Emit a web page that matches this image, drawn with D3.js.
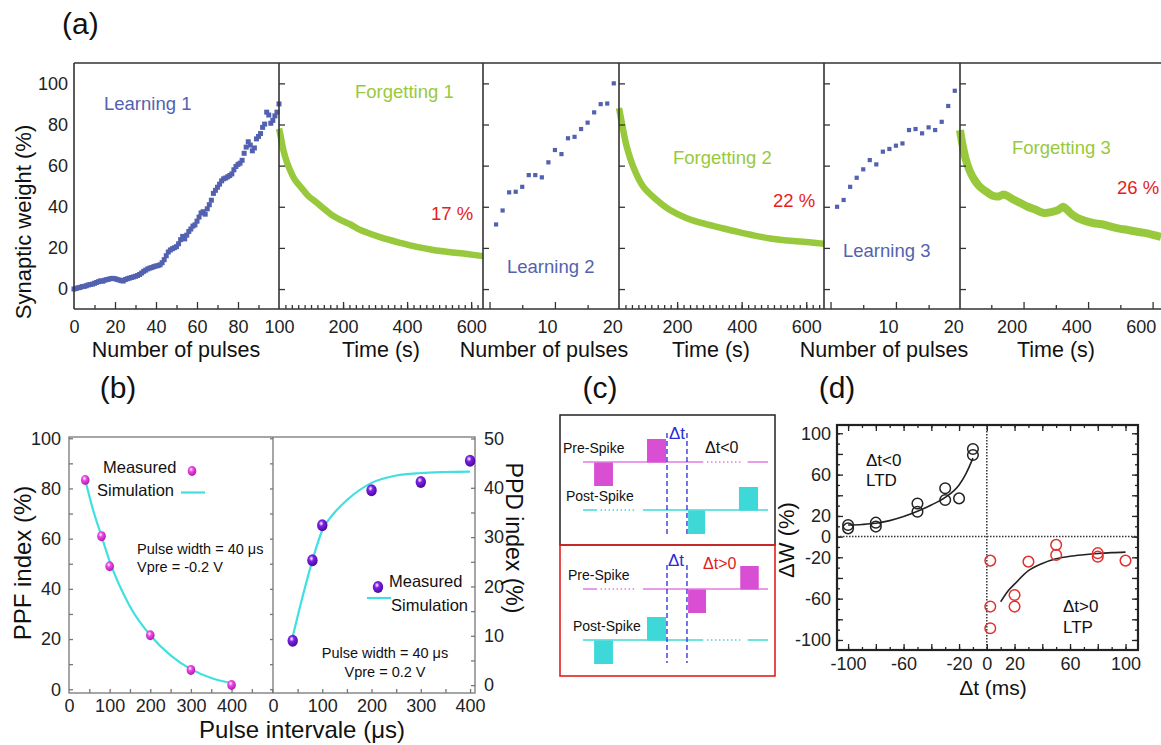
<!DOCTYPE html>
<html>
<head>
<meta charset="utf-8">
<script src="https://cdn.jsdelivr.net/npm/d3@7"></script>
<style>
  body { margin: 0; background: #fff; }
  text { font-family: "Liberation Sans", Arial, sans-serif; }
</style>
</head>
<body>
<svg id="fig"></svg>
<script>
// ---------- (a) learning / forgetting
const learn1Pulse = d3.range(0, 101);
const learn1W = [
  0, 0.3, 0.6, 0.8, 1.2, 1.3, 1.6, 2.0, 2.2, 2.4, 2.8,
  3.2, 3.6, 4.0, 3.8, 4.3, 4.6, 4.8, 5.1, 5.2, 5.0,
  4.7, 4.4, 4.1, 3.9, 4.6, 5.0, 5.3, 5.6, 5.9, 6.2,
  6.6, 7.1, 7.8, 8.6, 9.2, 9.8, 10.2, 10.5, 10.9, 11.2,
  11.4, 11.8, 12.8, 14.3, 16.2, 18.0, 19.0, 19.6, 20.1, 20.6,
  22.0, 24.0, 25.6, 24.4, 26.2, 28.0, 29.2, 30.6, 31.2, 33.0,
  35.0, 37.0, 37.6, 36.4, 39.0, 41.0, 43.2, 46.5, 48.0, 49.5,
  51.0, 52.6, 53.6, 54.0, 54.6, 55.2, 56.0, 58.0, 59.6, 60.6,
  61.2, 62.6, 66.0, 69.0, 71.6, 70.0, 67.2, 68.6, 73.0, 74.2,
  75.6, 78.6, 80.2, 86.0, 84.6, 80.6, 82.0, 84.2, 86.0, 90.0
];
const learnPulse = [1, 2, 3, 4, 5, 6, 7, 8, 9, 10, 11, 12, 13, 14, 15, 16, 17, 18, 19];
const learn2W = [31.4, 38.2, 47, 47.3, 49.7, 55.4, 55.4, 54.3, 61.6, 67.6, 65.6, 73.3, 74, 77.8, 80.9, 85.9, 89.9, 90.2, 100];
const learn3W = [40, 43.3, 49.7, 54.1, 58.2, 62.7, 60.6, 66.8, 68.1, 69.7, 70.8, 77.3, 77.8, 75.7, 78.6, 77.3, 81.3, 89, 96.4];

const forget1T = [0, 3, 8, 13, 24, 34, 50, 66, 90, 118, 145, 170, 200, 222, 250, 274, 320, 378, 430, 482, 530, 587, 637];
const forget1W = [78, 76, 72, 68, 62, 58, 53, 50, 45.5, 42, 38.5, 35.5, 33, 31.5, 29, 27.5, 25, 22.5, 20.5, 19, 18, 17, 16];
const forget2T = [20, 25, 33, 44, 64, 95, 137, 178, 230, 281, 330, 385, 440, 488, 540, 591, 643, 655];
const forget2W = [88, 84, 77.3, 69.2, 59.5, 49.8, 43.3, 38.4, 34.4, 31.9, 30, 27.9, 26, 24.6, 23.6, 23, 22.2, 22];
const forget3T = [40, 48, 58, 70, 85, 100, 120, 140, 160, 175, 190, 205, 225, 250, 275, 300, 325, 345, 360, 372, 385, 405, 430, 455, 480, 505, 530, 557, 585, 608, 635, 663];
const forget3W = [77.3, 70, 63, 57.5, 53, 50, 47.5, 45.5, 45, 46, 45, 43.5, 42, 40, 38.5, 37, 37.5, 38.5, 40, 38.5, 36.5, 34.5, 33, 32, 31.5, 30.5, 29.5, 28.8, 28, 27.4, 26.5, 25.4];
const weightTicks = [0, 20, 40, 60, 80, 100];

// ---------- (b) PPF / PPD
const ppInterval = [40, 80, 100, 200, 300, 400];
const ppfMeasured = [83.4, 61, 49, 21.5, 7.7, 1.7];
const ppfSimX = [40, 60, 80, 100, 150, 200, 250, 300, 350, 400];
const ppfSim = [83.4, 71, 61, 51, 33, 21.5, 13.5, 8, 4.5, 2.5];
const ppdMeasured = [9, 25.3, 32.4, 39.5, 41.2, 45.5];
const ppdSimX = [40, 60, 80, 100, 125, 150, 200, 250, 300, 350, 400];
const ppdSim = [9.8, 17.9, 25.3, 31.4, 35, 37.5, 41, 42.5, 43, 43.2, 43.3];

// ---------- (c) spike schematic (time in arbitrary units 0-100, amplitude +-1)
const ltdPrePulses = [[6, 16.2, -1], [34.6, 44.9, 1]];
const ltdPostPulses = [[56.8, 66, -1], [84.3, 94.6, 1]];
const ltpPrePulses = [[56.8, 66.5, -1], [85, 95, 1]];
const ltpPostPulses = [[6, 16.2, -1], [34.6, 44.9, 1]];
const lateSolid = [[0, 65], [89, 100]], lateDotted = [[67, 86.5]];
const earlySolid = [[0, 7.6], [32.4, 100]], earlyDotted = [[9.5, 29]];
const dtMarks = [45.4, 56.2];

// ---------- (d) STDP
const ltdDt = [-100, -100, -80, -80, -50, -50, -30, -30, -20, -10, -10];
const ltdDw = [11.3, 8, 13.5, 9.7, 32, 24, 46.8, 35.5, 37, 84.8, 79];
const ltpDt = [2.5, 2.5, 2.5, 20, 20, 30, 50, 50, 80, 80, 100];
const ltpDw = [-23.2, -67.7, -88.7, -56.5, -67.7, -24.2, -8, -17.7, -16, -19.4, -23.2];
const ltdFitDt = [-100, -90, -80, -70, -60, -50, -40, -30, -20, -15, -10];
const ltdFitDw = [11.3, 11.8, 12.9, 15.5, 19.4, 24.5, 30.6, 38, 50, 61, 76];
const ltpFitDt = [10, 15, 20, 30, 40, 50, 60, 70, 80, 90, 100];
const ltpFitDw = [-63, -53, -46, -33, -26, -21.5, -19, -17.5, -16.3, -15.5, -15];

const W = 1161, H = 745;
const svg = d3.select("#fig").attr("width", W).attr("height", H);
svg.append("rect").attr("width", W).attr("height", H).attr("fill", "#fff");

function addAxis(parent, axis, tx, ty, fontSize, col) {
  const g = parent.append("g").attr("transform", `translate(${tx},${ty})`).call(axis);
  g.attr("font-family", null).attr("font-size", null);
  g.select(".domain").remove();
  g.selectAll(".tick line").attr("stroke", col || "#333").attr("stroke-width", 1.3);
  g.selectAll("text").attr("font-size", fontSize || 18).attr("fill", "#222");
  return g;
}
function label(parent, x, y, str, size, color, anchor) {
  return parent.append("text").attr("x", x).attr("y", y).attr("font-size", size)
    .attr("fill", color || "#111").attr("text-anchor", anchor || "start").text(str);
}
const fmt = d => String(d);

// ================= (a) =================
const gA = svg.append("g");
const yA = d3.scaleLinear().domain([-9.7, 109.9]).range([309, 63]);
const LEARN = "#5262b0", FORGET = "#98c93c", RED = "#e8201c";

const panelsA = [
  { type: "learn", x: [74, 279], dom: [0, 100], xs: learn1Pulse, ys: learn1W, size: 5,
    major: [20, 40, 60, 80], minor: [10, 30, 50, 70, 90], labels: [0, 20, 40, 60, 80, 100], dx: 0 },
  { type: "forget", x: [279, 483], dom: [0, 637], xs: forget1T, ys: forget1W, width: 6.5,
    major: [200, 400, 600], minor: d3.range(20, 637, 20), labels: [200, 400, 600], dx: 0 },
  { type: "learn", x: [483, 619], dom: [-1, 19.8], xs: learnPulse, ys: learn2W, size: 4.2,
    major: [0, 10], minor: [5, 15], labels: [10, 20], dx: -8 },
  { type: "forget", x: [619, 824], dom: [20, 655], xs: forget2T, ys: forget2W, width: 6.5,
    major: [200, 400, 600], minor: d3.range(40, 655, 20), labels: [200, 400, 600], dx: 0 },
  { type: "learn", x: [824, 960], dom: [-1, 19.8], xs: learnPulse, ys: learn3W, size: 4.2,
    major: [0, 10], minor: [5, 15], labels: [10, 20], dx: -8 },
  { type: "forget", x: [960, 1161], dom: [40, 663], xs: forget3T, ys: forget3W, width: 8,
    major: [237, 437, 637], minor: [137, 337, 537], labels: [200, 400, 600], dx: 0 }
];

panelsA.forEach((p, i) => {
  const sx = d3.scaleLinear().domain(p.dom).range(p.x);
  const pts = p.xs.map((x, k) => [x, p.ys[k]]);
  if (p.type === "learn") {
    gA.append("g").selectAll("rect").data(pts).join("rect")
      .attr("x", d => sx(d[0]) - p.size / 2).attr("y", d => yA(d[1]) - p.size / 2)
      .attr("width", p.size).attr("height", p.size).attr("fill", LEARN);
  } else {
    gA.append("path").datum(pts)
      .attr("d", d3.line().x(d => sx(d[0])).y(d => yA(d[1])).curve(d3.curveCatmullRom.alpha(0.5)))
      .attr("fill", "none").attr("stroke", FORGET).attr("stroke-width", p.width)
      .attr("stroke-linejoin", "round");
  }
  // bottom ticks, inward
  addAxis(gA, d3.axisBottom(sx).tickValues(p.minor).tickSizeInner(-4).tickSizeOuter(0).tickFormat(""), 0, 309);
  addAxis(gA, d3.axisBottom(sx).tickValues(p.major).tickSizeInner(-7).tickSizeOuter(0).tickFormat(""), 0, 309);
  addAxis(gA, d3.axisBottom(sx).tickValues(p.labels).tickSize(0).tickPadding(11).tickFormat(fmt), 0, 309, 18)
    .selectAll("text").attr("dx", p.dx);
  // left border ticks, inward
  if (i > 0) {
    addAxis(gA, d3.axisRight(yA).tickValues(weightTicks).tickSizeInner(6).tickSizeOuter(0).tickFormat(""), p.x[0], 0);
  }
});

addAxis(gA, d3.axisLeft(yA).tickValues(weightTicks).tickSize(0).tickPadding(6).tickFormat(fmt), 74, 0, 18);

// frame
gA.append("path").attr("d", "M74,63H1161M74,309H1161M74,63V309")
  .attr("stroke", "#333").attr("stroke-width", 1.6).attr("fill", "none");
gA.selectAll(".divider").data(panelsA.slice(1)).join("line")
  .attr("x1", d => d.x[0]).attr("x2", d => d.x[0]).attr("y1", 63).attr("y2", 309)
  .attr("stroke", "#333").attr("stroke-width", 1.6);

label(gA, 62, 34, "(a)", 30);
gA.append("text").attr("transform", "translate(31,222) rotate(-90)").attr("text-anchor", "middle")
  .attr("font-size", 22).attr("fill", "#111").text("Synaptic weight (%)");

const xTitles = [["Number of pulses", 176], ["Time (s)", 381], ["Number of pulses", 544],
  ["Time (s)", 711], ["Number of pulses", 884], ["Time (s)", 1056]];
xTitles.forEach(t => label(gA, t[1], 357, t[0], 21.5, "#111", "middle"));

const curveNames = [["Learning 1", 104, 110, LEARN], ["Forgetting 1", 355, 98, FORGET], ["17 %", 431, 220, RED],
  ["Learning 2", 507, 273, LEARN], ["Forgetting 2", 673, 164, FORGET], ["22 %", 773, 207, RED],
  ["Learning 3", 843, 257, LEARN], ["Forgetting 3", 1012, 154, FORGET], ["26 %", 1117, 194, RED]];
curveNames.forEach(c => label(gA, c[1], c[2], c[0], 18.5, c[3]));

// ================= (b) =================
const gB = svg.append("g");
const bTop = 437, bBot = 693;
const xBL = d3.scaleLinear().domain([0, 502]).range([69, 273]);
const xBR = d3.scaleLinear().domain([0, 410]).range([273, 475]);
const yBL = d3.scaleLinear().domain([-1.5, 100.5]).range([bBot, bTop]);
const yBR = d3.scaleLinear().domain([-1.6, 50.3]).range([bBot, bTop]);

const defs = svg.append("defs");
[["pinkBall", "#f04ae8", "#b01aa8"], ["violetBall", "#7d22e6", "#4a0a9a"]].forEach(g => {
  const rg = defs.append("radialGradient").attr("id", g[0]).attr("cx", "40%").attr("cy", "35%").attr("r", "65%");
  rg.append("stop").attr("offset", "0%").attr("stop-color", "#ffffff");
  rg.append("stop").attr("offset", "35%").attr("stop-color", g[1]);
  rg.append("stop").attr("offset", "100%").attr("stop-color", g[2]);
});

const FR = "#777";
addAxis(gB, d3.axisRight(yBL).tickValues(d3.range(0, 101, 10)).tickSizeInner(4).tickSizeOuter(0).tickFormat(""), 69, 0, 18, FR);
addAxis(gB, d3.axisLeft(yBL).tickValues(d3.range(0, 101, 10)).tickSizeInner(3).tickSizeOuter(0).tickFormat(""), 273, 0, 18, FR);
addAxis(gB, d3.axisLeft(yBR).tickValues(d3.range(0, 51, 5)).tickSizeInner(4).tickSizeOuter(0).tickFormat(""), 475, 0, 18, FR);
addAxis(gB, d3.axisLeft(yBL).tickValues(d3.range(0, 101, 20)).tickSize(0).tickPadding(8).tickFormat(fmt), 69, 0, 18);
addAxis(gB, d3.axisRight(yBR).tickValues(d3.range(0, 51, 10)).tickSize(0).tickPadding(9).tickFormat(fmt), 475, 0, 18);
addAxis(gB, d3.axisBottom(xBL).tickValues(d3.range(50, 501, 50)).tickSizeInner(-4).tickSizeOuter(0).tickFormat(""), 0, bBot, 18, FR);
addAxis(gB, d3.axisBottom(xBR).tickValues(d3.range(50, 401, 50)).tickSizeInner(-4).tickSizeOuter(0).tickFormat(""), 0, bBot, 18, FR);
addAxis(gB, d3.axisBottom(xBL).tickValues([0, 100, 200, 300, 400]).tickSize(0).tickPadding(6).tickFormat(fmt), 0, bBot, 18);
addAxis(gB, d3.axisBottom(xBR).tickValues([0, 100, 200, 300, 400]).tickSize(0).tickPadding(6).tickFormat(fmt), 0, bBot, 18);

gB.append("rect").attr("x", 69).attr("y", bTop).attr("width", 475 - 69).attr("height", bBot - bTop)
  .attr("fill", "none").attr("stroke", FR).attr("stroke-width", 1.3);
gB.append("line").attr("x1", 273).attr("x2", 273).attr("y1", bTop).attr("y2", bBot)
  .attr("stroke", FR).attr("stroke-width", 1.3);

const CYAN = "#40e0e0";
const simL = d3.line().x(d => xBL(d[0])).y(d => yBL(d[1])).curve(d3.curveMonotoneX);
const simR = d3.line().x(d => xBR(d[0])).y(d => yBR(d[1])).curve(d3.curveMonotoneX);
gB.append("path").attr("d", simL(ppfSimX.map((x, i) => [x, ppfSim[i]])))
  .attr("fill", "none").attr("stroke", CYAN).attr("stroke-width", 2.2);
gB.append("path").attr("d", simR(ppdSimX.map((x, i) => [x, ppdSim[i]])))
  .attr("fill", "none").attr("stroke", CYAN).attr("stroke-width", 2.2);

gB.append("g").selectAll("ellipse").data(ppInterval.map((x, i) => [x, ppfMeasured[i]])).join("ellipse")
  .attr("cx", d => xBL(d[0])).attr("cy", d => yBL(d[1])).attr("rx", 4.3).attr("ry", 5)
  .attr("fill", "url(#pinkBall)");
gB.append("g").selectAll("ellipse").data(ppInterval.map((x, i) => [x, ppdMeasured[i]])).join("ellipse")
  .attr("cx", d => xBR(d[0])).attr("cy", d => yBR(d[1])).attr("rx", 5.2).attr("ry", 6)
  .attr("fill", "url(#violetBall)");

// legends
label(gB, 103, 473, "Measured", 16.5);
gB.append("ellipse").attr("cx", 192).attr("cy", 471).attr("rx", 4.3).attr("ry", 5).attr("fill", "url(#pinkBall)");
label(gB, 97, 496, "Simulation", 16.5);
gB.append("line").attr("x1", 181).attr("x2", 205).attr("y1", 492.5).attr("y2", 492.5).attr("stroke", CYAN).attr("stroke-width", 2.2);
label(gB, 137, 554, "Pulse width = 40 μs", 14.5);
label(gB, 137, 572, "Vpre = -0.2 V", 14.5);

gB.append("ellipse").attr("cx", 378).attr("cy", 587).attr("rx", 5.2).attr("ry", 6).attr("fill", "url(#violetBall)");
label(gB, 389, 587, "Measured", 16.5);
gB.append("line").attr("x1", 367).attr("x2", 391).attr("y1", 598).attr("y2", 598).attr("stroke", CYAN).attr("stroke-width", 2.2);
label(gB, 391, 611, "Simulation", 16.5);
label(gB, 385, 658, "Pulse width = 40 μs", 14.5, "#111", "middle");
label(gB, 385, 677, "Vpre = 0.2 V", 14.5, "#111", "middle");

label(gB, 118, 398, "(b)", 30, "#111", "middle");
gB.append("text").attr("transform", "translate(31,563) rotate(-90)").attr("text-anchor", "middle")
  .attr("font-size", 24).attr("fill", "#111").text("PPF index (%)");
gB.append("text").attr("transform", "translate(506,538) rotate(90)").attr("text-anchor", "middle")
  .attr("font-size", 23).attr("fill", "#111").text("PPD index (%)");
label(gB, 302, 738, "Pulse intervale (μs)", 24, "#111", "middle");

// ================= (c) =================
const gC = svg.append("g");
const tC = d3.scaleLinear().domain([0, 100]).range([583, 768]);
const ampC = d3.scaleLinear().domain([-1, 1]).range([24, -23]);
const MAG = "#d94fd3", MAGL = "#e27de0", CY2 = "#3fd8d8";

gC.append("rect").attr("x", 560).attr("y", 415).attr("width", 215).attr("height", 130)
  .attr("fill", "none").attr("stroke", "#222").attr("stroke-width", 1.5);
gC.append("rect").attr("x", 560).attr("y", 545).attr("width", 215).attr("height", 131)
  .attr("fill", "none").attr("stroke", "#e02020").attr("stroke-width", 1.6);

const spikeRows = [
  { base: 462, pulses: ltdPrePulses, solid: lateSolid, dotted: lateDotted, fill: MAG, line: MAGL, name: "Pre-Spike", lx: 563 },
  { base: 510, pulses: ltdPostPulses, solid: earlySolid, dotted: earlyDotted, fill: CY2, line: CY2, name: "Post-Spike", lx: 566 },
  { base: 589, pulses: ltpPrePulses, solid: earlySolid, dotted: earlyDotted, fill: MAG, line: MAGL, name: "Pre-Spike", lx: 568 },
  { base: 640, pulses: ltpPostPulses, solid: lateSolid, dotted: lateDotted, fill: CY2, line: CY2, name: "Post-Spike", lx: 573 }
];
spikeRows.forEach(r => {
  const g = gC.append("g").attr("transform", `translate(0,${r.base})`);
  g.selectAll(".s").data(r.solid).join("line")
    .attr("x1", d => tC(d[0])).attr("x2", d => tC(d[1])).attr("y1", 0).attr("y2", 0)
    .attr("stroke", r.line).attr("stroke-width", 1.5);
  g.selectAll(".d").data(r.dotted).join("line")
    .attr("x1", d => tC(d[0])).attr("x2", d => tC(d[1])).attr("y1", 0).attr("y2", 0)
    .attr("stroke", r.line).attr("stroke-width", 1.5).attr("stroke-dasharray", "1.5,2.5");
  g.selectAll("rect").data(r.pulses).join("rect")
    .attr("x", d => tC(d[0])).attr("width", d => tC(d[1]) - tC(d[0]))
    .attr("y", d => Math.min(ampC(d[2]), ampC(0))).attr("height", d => Math.abs(ampC(d[2]) - ampC(0)))
    .attr("fill", r.fill);
  label(gC, r.lx, r.base - 9, r.name, 14);
});
[[433, 535], [565, 663]].forEach(span => {
  gC.append("g").selectAll("line").data(dtMarks).join("line")
    .attr("x1", d => tC(d)).attr("x2", d => tC(d)).attr("y1", span[0]).attr("y2", span[1])
    .attr("stroke", "#2b2bd6").attr("stroke-width", 1.3).attr("stroke-dasharray", "5,3");
});
label(gC, 677, 439, "Δt", 17, "#2b2bd6", "middle");
label(gC, 676, 566, "Δt", 17, "#2b2bd6", "middle");
label(gC, 705, 453, "Δt<0", 16, "#111");
label(gC, 703, 569, "Δt>0", 16, "#e02020");
label(gC, 600, 398, "(c)", 30, "#111", "middle");

// ================= (d) =================
const gD = svg.append("g");
const xD = d3.scaleLinear().domain([-108, 109]).range([837, 1138]);
const yD = d3.scaleLinear().domain([-109.7, 108]).range([650, 425]);
const DK = "#222";

addAxis(gD, d3.axisBottom(xD).tickValues(d3.range(-100, 101, 10)).tickSizeInner(-3).tickSizeOuter(0).tickFormat(""), 0, 650, 18, DK);
addAxis(gD, d3.axisBottom(xD).tickValues(d3.range(-100, 101, 20)).tickSizeInner(-6).tickSizeOuter(0).tickFormat(""), 0, 650, 18, DK);
addAxis(gD, d3.axisTop(xD).tickValues(d3.range(-100, 101, 10)).tickSizeInner(-3).tickSizeOuter(0).tickFormat(""), 0, 425, 18, DK);
addAxis(gD, d3.axisTop(xD).tickValues(d3.range(-100, 101, 20)).tickSizeInner(-6).tickSizeOuter(0).tickFormat(""), 0, 425, 18, DK);
addAxis(gD, d3.axisLeft(yD).tickValues(d3.range(-100, 101, 10)).tickSizeInner(-3).tickSizeOuter(0).tickFormat(""), 837, 0, 18, DK);
addAxis(gD, d3.axisLeft(yD).tickValues(d3.range(-100, 101, 20)).tickSizeInner(-6).tickSizeOuter(0).tickFormat(""), 837, 0, 18, DK);
addAxis(gD, d3.axisRight(yD).tickValues(d3.range(-100, 101, 10)).tickSizeInner(-3).tickSizeOuter(0).tickFormat(""), 1138, 0, 18, DK);
addAxis(gD, d3.axisRight(yD).tickValues(d3.range(-100, 101, 20)).tickSizeInner(-6).tickSizeOuter(0).tickFormat(""), 1138, 0, 18, DK);
addAxis(gD, d3.axisBottom(xD).tickValues([-100, -60, -20, 0, 20, 60, 100]).tickSize(0).tickPadding(7).tickFormat(fmt), 0, 650, 18);
addAxis(gD, d3.axisLeft(yD).tickValues([100, 60, 20, 0, -20, -60, -100]).tickSize(0).tickPadding(6).tickFormat(fmt), 837, 0, 18);

gD.append("line").attr("x1", xD(0)).attr("x2", xD(0)).attr("y1", 425).attr("y2", 650)
  .attr("stroke", "#333").attr("stroke-width", 1.5).attr("stroke-dasharray", "1.5,1.5");
gD.append("line").attr("x1", 837).attr("x2", 1138).attr("y1", yD(0)).attr("y2", yD(0))
  .attr("stroke", "#333").attr("stroke-width", 1.5).attr("stroke-dasharray", "1.5,1.5");
gD.append("rect").attr("x", 837).attr("y", 425).attr("width", 1138 - 837).attr("height", 225)
  .attr("fill", "none").attr("stroke", DK).attr("stroke-width", 2.2);

const fitLine = d3.line().x(d => xD(d[0])).y(d => yD(d[1])).curve(d3.curveMonotoneX);
gD.append("path").attr("d", fitLine(ltdFitDt.map((x, i) => [x, ltdFitDw[i]])))
  .attr("fill", "none").attr("stroke", "#222").attr("stroke-width", 1.6);
gD.append("path").attr("d", fitLine(ltpFitDt.map((x, i) => [x, ltpFitDw[i]])))
  .attr("fill", "none").attr("stroke", "#222").attr("stroke-width", 1.6);

gD.append("g").selectAll("circle").data(ltdDt.map((x, i) => [x, ltdDw[i]])).join("circle")
  .attr("cx", d => xD(d[0])).attr("cy", d => yD(d[1])).attr("r", 5.3)
  .attr("fill", "none").attr("stroke", "#222").attr("stroke-width", 1.5);
gD.append("g").selectAll("circle").data(ltpDt.map((x, i) => [x, ltpDw[i]])).join("circle")
  .attr("cx", d => xD(d[0])).attr("cy", d => yD(d[1])).attr("r", 5.3)
  .attr("fill", "none").attr("stroke", "#e03030").attr("stroke-width", 1.5);

label(gD, 866, 466, "Δt<0", 17);
label(gD, 866, 486, "LTD", 17);
label(gD, 1063, 612, "Δt>0", 17);
label(gD, 1063, 633, "LTP", 17);
gD.append("text").attr("transform", "translate(794,540) rotate(-90)").attr("text-anchor", "middle")
  .attr("font-size", 22).attr("fill", "#111").text("ΔW (%)");
label(gD, 993, 695, "Δt (ms)", 21, "#111", "middle");
label(gD, 837, 398, "(d)", 30, "#111", "middle");
</script>
</body>
</html>
